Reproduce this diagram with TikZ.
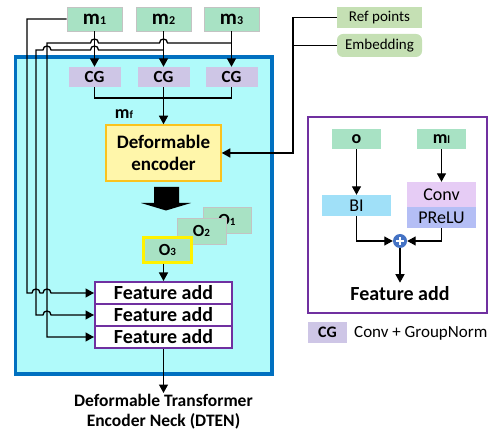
\documentclass[tikz,border=0pt]{standalone}
\usepackage{fontspec}
\setmainfont{Carlito}
\usetikzlibrary{arrows.meta,calc}
\definecolor{mgreen}{RGB}{168,226,196}
\definecolor{rgreen}{RGB}{197,224,180}
\definecolor{cgcol}{RGB}{206,198,230}
\definecolor{cyanfill}{RGB}{176,250,250}
\definecolor{bluebd}{RGB}{0,112,192}
\definecolor{encfill}{RGB}{255,246,170}
\definecolor{encbd}{RGB}{250,195,30}
\definecolor{purp}{RGB}{112,48,160}
\definecolor{bifill}{RGB}{160,224,248}
\definecolor{convfill}{RGB}{230,204,245}
\definecolor{prelufill}{RGB}{180,190,245}
\definecolor{plusblue}{RGB}{68,114,196}
\definecolor{gbd}{RGB}{195,195,195}
\newcommand{\myfs}[1]{\fontsize{#1}{#1}\selectfont}
\begin{document}
\begin{tikzpicture}[x=1pt,y=-1pt,
  wire/.style={line width=1.3pt},
  arr/.style={line width=1.3pt,-{Triangle[length=8.5pt,width=9pt]}},
  gbox/.style={fill=mgreen,draw=gbd,line width=0.8pt,inner sep=0pt},
  cgbox/.style={fill=cgcol,inner sep=0pt,minimum width=52,minimum height=20,font=\myfs{17}\bfseries},
  fabox/.style={fill=white,draw=purp,line width=2pt,inner sep=0pt,minimum width=137,minimum height=22,font=\myfs{20}\bfseries},
  refbox/.style={fill=rgreen,inner sep=0pt,minimum width=85,font=\myfs{15}},
  plainbox/.style={inner sep=0pt,minimum width=69,font=\myfs{18}}
]
\useasboundingbox (0,0) rectangle (492,435);

% DTEN container
\draw[line width=3.5pt,draw=bluebd,fill=cyanfill] (15.5,57) rectangle (272,374);

% inputs
\node[gbox,minimum width=55,minimum height=24] (m1) at (94.5,19) {\myfs{21}\bfseries m\myfs{12}1};
\node[gbox,minimum width=55,minimum height=24] (m2) at (163.5,19) {\myfs{21}\bfseries m\myfs{12}2};
\node[gbox,minimum width=55,minimum height=24] (m3) at (231.5,19) {\myfs{21}\bfseries m\myfs{12}3};

\node[cgbox] (cg1) at (94.5,77) {CG};
\node[cgbox] (cg2) at (163.5,77) {CG};
\node[cgbox] (cg3) at (231.5,77) {CG};

\node[refbox,minimum height=21] (ref) at (379.5,17.5) {Ref points};
\node[refbox,minimum height=23,rounded corners=6pt] (emb) at (379.5,45.5) {Embedding};

\node[fill=encfill,draw=encbd,line width=1.5pt,minimum width=115,minimum height=56,inner sep=0pt,
      align=center,font=\fontsize{19}{22}\selectfont\bfseries] (enc) at (163.5,153) {Deformable\\encoder};
\node[inner sep=0pt] (mf) at (124,114) {\myfs{18}\bfseries m\myfs{11}f};

% outputs
\node[gbox,minimum width=48,minimum height=26] (o1) at (227,220) {\myfs{17}\bfseries O\myfs{11}1};
\node[gbox,minimum width=49,minimum height=26] (o2) at (201.5,231) {\myfs{17}\bfseries O\myfs{11}2};
\node[fill=mgreen,draw=yellow,line width=2.5pt,inner sep=0pt,minimum width=48,minimum height=25] (o3) at (167.5,250) {\myfs{17}\bfseries O\myfs{11}3};

\node[fabox] (fa1) at (163.5,293) {Feature add};
\node[fabox] (fa2) at (163.5,315) {Feature add};
\node[fabox] (fa3) at (163.5,337) {Feature add};

\node[anchor=north,inner sep=1pt,align=center,font=\fontsize{17.5}{20}\selectfont\bfseries] (cap) at (163.5,393)
  {Deformable Transformer\\Encoder Neck (DTEN)};

% block arrow
\fill (154,187) -- (179,187) -- (179,203) -- (191,203) -- (166,210.5) -- (141,203) -- (154,203) -- cycle;

% wires from inputs
\draw[arr] (m1) -- (cg1);
\draw[arr] (m2) -- (cg2);
\draw[arr] (m3) -- (cg3);
\coordinate (j2) at (163.5,50);
\coordinate (j3) at (231.5,43);

\draw[arr] (m1.west) -- (27,19) -- (27,293) -- (32,293)
  .. controls (32,287.7) and (40,287.7) .. (40,293) -- (43,293)
  .. controls (43,287.7) and (51,287.7) .. (51,293) -- (fa1.west);
\draw[arr] (j2) -- (98.5,50) .. controls (98.5,44.7) and (90.5,44.7) .. (90.5,50)
  -- (51,50) .. controls (51,44.7) and (43,44.7) .. (43,50) -- (36,50) -- (36,315) -- (43,315)
  .. controls (43,309.7) and (51,309.7) .. (51,315) -- (fa2.west);
\draw[arr] (j3) -- (167.5,43) .. controls (167.5,37.7) and (159.5,37.7) .. (159.5,43)
  -- (98.5,43) .. controls (98.5,37.7) and (90.5,37.7) .. (90.5,43)
  -- (47,43) -- (47,337) -- (fa3.west);

% CG to encoder
\draw[wire] (cg1.south) -- (94.5,98) -- (231.5,98) -- (cg3.south);
\draw[arr] (cg2.south) -- (enc.north);

% ref points / embedding
\draw[arr] (ref.west) -- (293,17.5) -- (293,153) -- (enc.east);
\draw[wire] (emb.west) -- (293,45.5);

% output arrows
\draw[arr] (fa1.north |- o3.south) -- (fa1.north);
\draw[arr] (fa3.south) -- (cap.north);

% Feature add detail panel
\draw[draw=purp,line width=2pt,fill=white] (308,117) rectangle (487,313);
\node[gbox,minimum width=49,minimum height=20,draw=none] (o) at (356.5,139) {\myfs{18}\bfseries o};
\node[gbox,minimum width=49,minimum height=20,draw=none] (ml) at (441.5,139) {\myfs{18}\bfseries m\myfs{11}l};
\node[plainbox,fill=bifill,minimum height=21] (bi) at (356.5,205.5) {BI};
\node[plainbox,fill=convfill,minimum height=25] (conv) at (441.5,194.5) {Conv};
\node[plainbox,fill=prelufill,minimum height=21] (prelu) at (441.5,217.5) {PReLU};
\node[circle,fill=plusblue,minimum size=14,inner sep=0pt] (plus) at (400,241) {};
\draw[white,line width=2pt] (plus.center) ++(-4,0) -- ++(8,0);
\draw[white,line width=2pt] (plus.center) ++(0,-4) -- ++(0,8);
\node[inner sep=0pt,font=\myfs{20}\bfseries] (far) at (400,294) {Feature add};

\draw[arr] (o) -- (bi);
\draw[arr] (ml) -- (conv);
\draw[arr] (bi.south) |- (plus.west);
\draw[arr] (prelu.south) |- (plus.east);
\draw[arr,shorten >=4pt] (plus.south) -- (far.north);

% legend
\node[fill=cgcol,inner sep=0pt,minimum width=39,minimum height=21,font=\myfs{16}\bfseries] (lcg) at (327.5,332.5) {CG};
\node[anchor=west,inner sep=0pt,font=\myfs{17}] (ltext) at (354,333) {Conv + GroupNorm};
\end{tikzpicture}
\end{document}
